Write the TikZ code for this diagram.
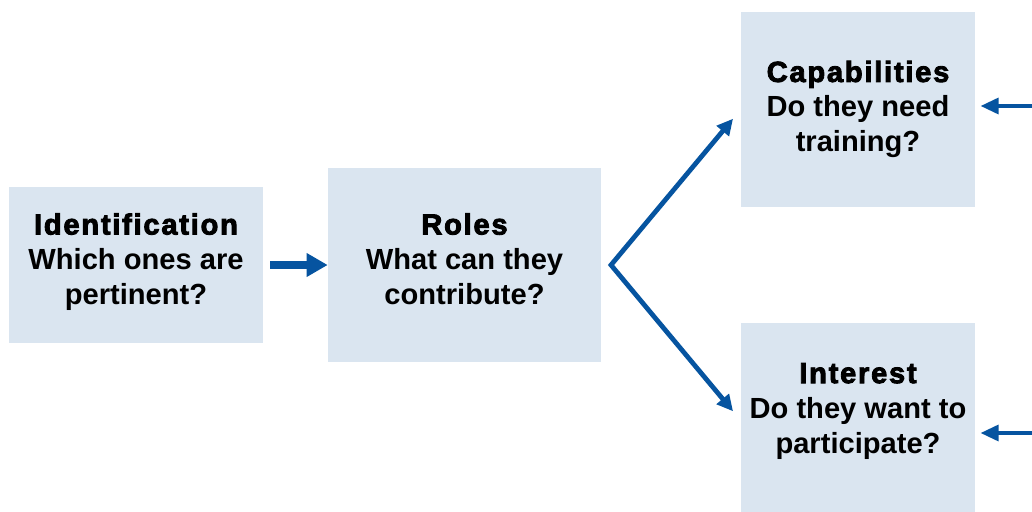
\documentclass[tikz,border=0pt]{standalone}
\usepackage{fontspec}
\setmainfont{Liberation Sans}
\newfontfamily\headfont[FakeBold=3,LetterSpace=6]{Liberation Sans Bold}
\usetikzlibrary{arrows.meta}
\definecolor{boxblue}{RGB}{218,229,240}
\definecolor{arrowblue}{RGB}{6,84,160}

\begin{document}
\begin{tikzpicture}[x=0.025cm,y=-0.025cm,
  stage/.style={fill=boxblue,align=center,inner sep=0pt,
    font=\fontsize{20.7}{24.9}\selectfont\bfseries},
  mainarrow/.style={arrowblue,line width=5pt,-{Triangle[length=15pt,width=16pt]}},
  forkarrow/.style={arrowblue,line width=3.4pt,line join=miter,
    {Triangle[length=11.5pt,width=11pt]}-{Triangle[length=11.5pt,width=11pt]}},
  backarrow/.style={arrowblue,line width=3.5pt,-{Triangle[length=13pt,width=11pt]}}]
  \useasboundingbox (0,0) rectangle (1032,512);
  \node[stage,minimum width=254*0.025cm,minimum height=156*0.025cm,text depth=0.3cm] (ident) at (136,265)
    {{\headfont Identification}\\Which ones are\\pertinent?};
  \node[stage,minimum width=273*0.025cm,minimum height=194*0.025cm,text depth=0.3cm] (roles) at (464.5,265)
    {{\headfont Roles}\\What can they\\contribute?};
  \node[stage,minimum width=234*0.025cm,minimum height=195*0.025cm] (capab) at (858,109.5)
    {{\headfont Capabilities}\\Do they need\\training?};
  \node[stage,minimum width=234*0.025cm,minimum height=195*0.025cm,text depth=0.62cm] (inter) at (858,420.5)
    {{\headfont Interest}\\Do they want to\\participate?};
  \coordinate (fork) at (611,265);
  \coordinate (capin) at (1032,106);
  \coordinate (intin) at (1032,433);
  \draw[mainarrow,shorten <=7*0.025cm] (ident.east |- fork) -- (roles.west |- fork);
  \draw[forkarrow,shorten <=12*0.025cm,shorten >=12*0.025cm] (capab.west) -- (fork) -- (inter.west);
  \draw[backarrow,shorten >=5*0.025cm] (capin) -- (capab.east |- capin);
  \draw[backarrow,shorten >=5*0.025cm] (intin) -- (inter.east |- intin);
\end{tikzpicture}
\end{document}
